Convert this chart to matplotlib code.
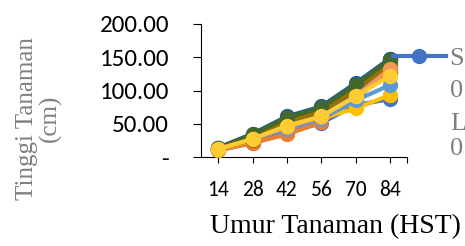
import matplotlib.pyplot as plt
from matplotlib import font_manager
import numpy as np

# umur tanaman (HST) dan tinggi tanaman (cm) per perlakuan
umur = ["14", "28", "42", "56", "70", "84"]
yticks = [0, 50, 100, 150, 200]
ytick_labels = ["-", "50.00", "100.00", "150.00", "200.00"]

s0l0 = [10, 21, 36, 51, 78, 87]
s0l1 = [10, 21, 34, 52, 86, 131]
s0l2 = [12, 26, 44, 60, 90, 125]
s0l3 = [11, 25, 45, 58, 73, 93]
s1l0 = [12, 27, 42, 57, 85, 108]
s1l1 = [13, 30, 50, 65, 100, 140]
s1l2 = [13, 33, 58, 73, 108, 147]
s1l3 = [12, 26, 46, 60, 95, 128]
s2l0 = [12, 29, 52, 66, 100, 135]
s2l1 = [12, 30, 54, 68, 102, 138]
s2l2 = [14, 35, 61, 76, 111, 148]
s2l3 = [14, 34, 59, 74, 108, 146]
s3l0 = [12, 27, 45, 60, 92, 132]
s3l1 = [12, 27, 47, 61, 91, 122]

series = [s0l0, s0l1, s0l2, s0l3, s1l0, s1l1, s1l2, s1l3,
          s2l0, s2l1, s2l2, s2l3, s3l0, s3l1]
colors = ["#4472C4", "#ED7D31", "#A5A5A5", "#FFC000", "#5B9BD5", "#70AD47",
          "#264478", "#9E480E", "#636363", "#997300", "#255E91", "#43682B",
          "#F1975A", "#FFCD33"]

names = {f.name for f in font_manager.fontManager.ttflist}
sans = "Carlito" if "Carlito" in names else "Open Sans"
narrow = "Liberation Sans Narrow" if "Liberation Sans Narrow" in names else sans
serif = "Liberation Serif"

W, H = 465, 246
fig = plt.figure(figsize=(W / 100, H / 100), dpi=100)
ax = fig.add_axes([201 / W, 1 - 157 / H, 206 / W, 133 / H])

x = np.arange(len(umur))
lines = []
for vals, c in zip(series, colors):
    ln, = ax.plot(x, vals, color=c, lw=3, marker="o", ms=10, zorder=3)
    lines.append(ln)

ax.set_xlim(-0.5, len(umur) - 0.5)
ax.set_ylim(0, 200)
ax.set_xticks(list(x) + [len(umur) - 0.5])
ax.set_xticklabels(umur + [""], fontsize=15.5, family=narrow)
ax.set_yticks(yticks)
ax.set_yticklabels(ytick_labels, fontsize=18, family=sans)
ax.tick_params(axis="y", length=6, pad=17, color="black")
ax.tick_params(axis="x", length=4.5, pad=12, color="black")
for s in ["top", "right"]:
    ax.spines[s].set_visible(False)

ax.set_xlabel("Umur Tanaman (HST)", fontsize=20, family=serif)
ax.xaxis.set_label_coords(0.653, -0.43)
ax.set_ylabel("Tinggi Tanaman\n(cm)", fontsize=18, family=serif,
              color="#7F7F7F", linespacing=1.05)
ax.yaxis.set_label_coords(-0.675, 0.29)

# legenda terpotong di tepi kanan
fig.legend([lines[0]], ["S"], loc="center left", bbox_to_anchor=(393 / W, 1 - 58 / H),
           frameon=False, handlelength=2.0, handletextpad=0.15, borderpad=0,
           borderaxespad=0, prop={"family": serif, "size": 19}, labelcolor="#7F7F7F")
for ch, yy in zip(["0", "L", "0"], [91, 124, 149]):
    fig.text(450 / W, 1 - yy / H, ch, fontsize=19, family=serif,
             color="#7F7F7F", va="center")

fig.savefig("out.png", dpi=100)
